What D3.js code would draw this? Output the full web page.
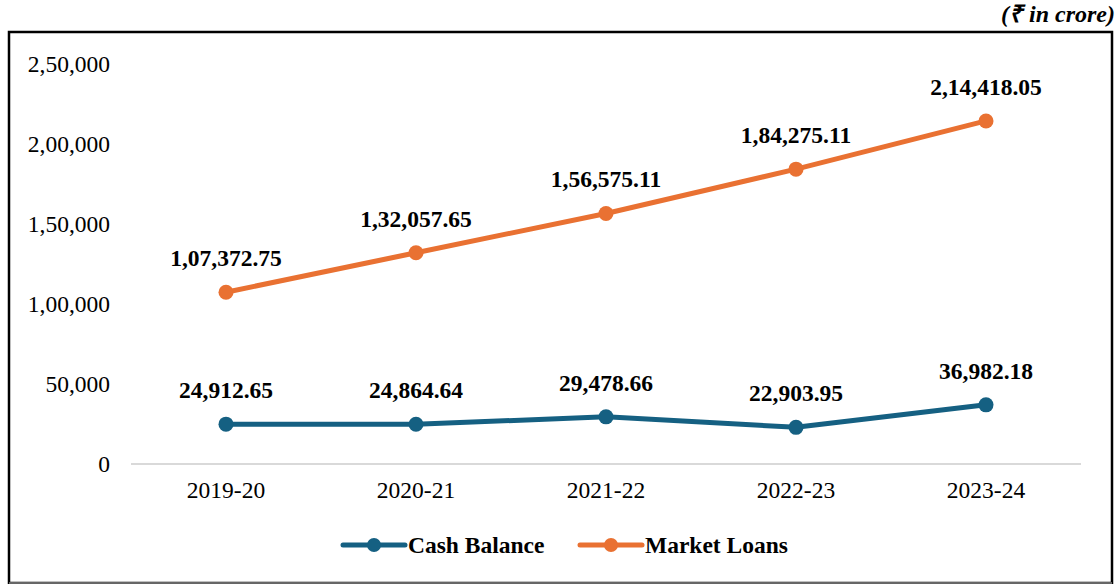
<!DOCTYPE html>
<html><head><meta charset="utf-8">
<script src="https://cdn.jsdelivr.net/npm/d3@7/dist/d3.min.js"></script>
<style>body{margin:0;background:#fff}svg{display:block}</style>
</head><body>
<svg id="c" width="1120" height="584"></svg>
<script>
const categories = ["2019-20","2020-21","2021-22","2022-23","2023-24"];
const cashBalance = [24912.65, 24864.64, 29478.66, 22903.95, 36982.18];
const marketLoans = [107372.75, 132057.65, 156575.11, 184275.11, 214418.05];
const yTicks = [0, 50000, 100000, 150000, 200000, 250000];
const seriesNames = ["Cash Balance", "Market Loans"];
const colors = ["#156082", "#E97132"];

const svg = d3.select("#c");
const font = "'Liberation Serif','Times New Roman',serif";
const fs = 23.5;

// frame
svg.append("rect").attr("x",9).attr("y",32).attr("width",1103).attr("height",551)
  .attr("fill","none").attr("stroke","#000").attr("stroke-width",2.5);
svg.append("line").attr("x1",9).attr("x2",1112).attr("y1",583).attr("y2",583).attr("stroke","#888").attr("stroke-width",1.5);

svg.append("text").attr("x",1115).attr("y",22).attr("text-anchor","end")
  .attr("font-family",font).attr("font-size",24).attr("font-weight","bold").attr("font-style","italic")
  .text("(₹ in crore)");

const x = d3.scaleBand().domain(categories).range([131,1081]);
const y = d3.scaleLinear().domain([0,250000]).range([464,64]);
const fmt = d3.formatLocale({decimal:".",thousands:",",grouping:[3,2,2,2,2,2],currency:["",""]});
const fInt = fmt.format(",d");
const fDec = fmt.format(",.2f");

// axis baseline
svg.append("line").attr("x1",x.range()[0]).attr("x2",x.range()[1]).attr("y1",y(0)).attr("y2",y(0))
  .attr("stroke","#d9d9d9").attr("stroke-width",2);

const yAxis = svg.append("g").attr("transform",`translate(110,0)`)
  .call(d3.axisLeft(y).tickValues(yTicks).tickFormat(fInt).tickSize(0).tickPadding(0));
yAxis.select(".domain").remove();
yAxis.selectAll("text").attr("font-family",font).attr("font-size",fs).attr("fill","#000").attr("dy","0.32em");

const xAxis = svg.append("g").attr("transform",`translate(0,${y(0)})`)
  .call(d3.axisBottom(x).tickSize(0).tickPadding(0));
xAxis.select(".domain").remove();
xAxis.selectAll("text").attr("font-family",font).attr("font-size",fs).attr("fill","#000").attr("y",34).attr("dy",0);

const cx = d => x(d) + x.bandwidth()/2;
const data = [cashBalance, marketLoans];
data.forEach((vals,i)=>{
  const pts = vals.map((v,j)=>({c:categories[j],v}));
  svg.append("path").datum(pts)
    .attr("d", d3.line().x(d=>cx(d.c)).y(d=>y(d.v)))
    .attr("fill","none").attr("stroke",colors[i]).attr("stroke-width",5).attr("stroke-linejoin","round").attr("stroke-linecap","round");
  svg.selectAll(null).data(pts).enter().append("circle")
    .attr("cx",d=>cx(d.c)).attr("cy",d=>y(d.v)).attr("r",7.5).attr("fill",colors[i]);
  svg.selectAll(null).data(pts).enter().append("text")
    .attr("x",d=>cx(d.c)).attr("y",d=>y(d.v)-26).attr("text-anchor","middle")
    .attr("font-family",font).attr("font-size",fs).attr("font-weight","bold").attr("fill","#000")
    .text(d=>fDec(d.v));
});

// legend
const legX = [343, 580];
seriesNames.forEach((n,i)=>{
  const g = svg.append("g").attr("transform",`translate(${legX[i]},545)`);
  g.append("line").attr("x1",0).attr("x2",62).attr("stroke",colors[i]).attr("stroke-width",5).attr("stroke-linecap","round");
  g.append("circle").attr("cx",31).attr("r",7).attr("fill",colors[i]);
  g.append("text").attr("x",65).attr("y",0).attr("dy","0.35em")
    .attr("font-family",font).attr("font-size",fs).attr("font-weight","bold").attr("fill","#000").text(n);
});
</script>
</body></html>
